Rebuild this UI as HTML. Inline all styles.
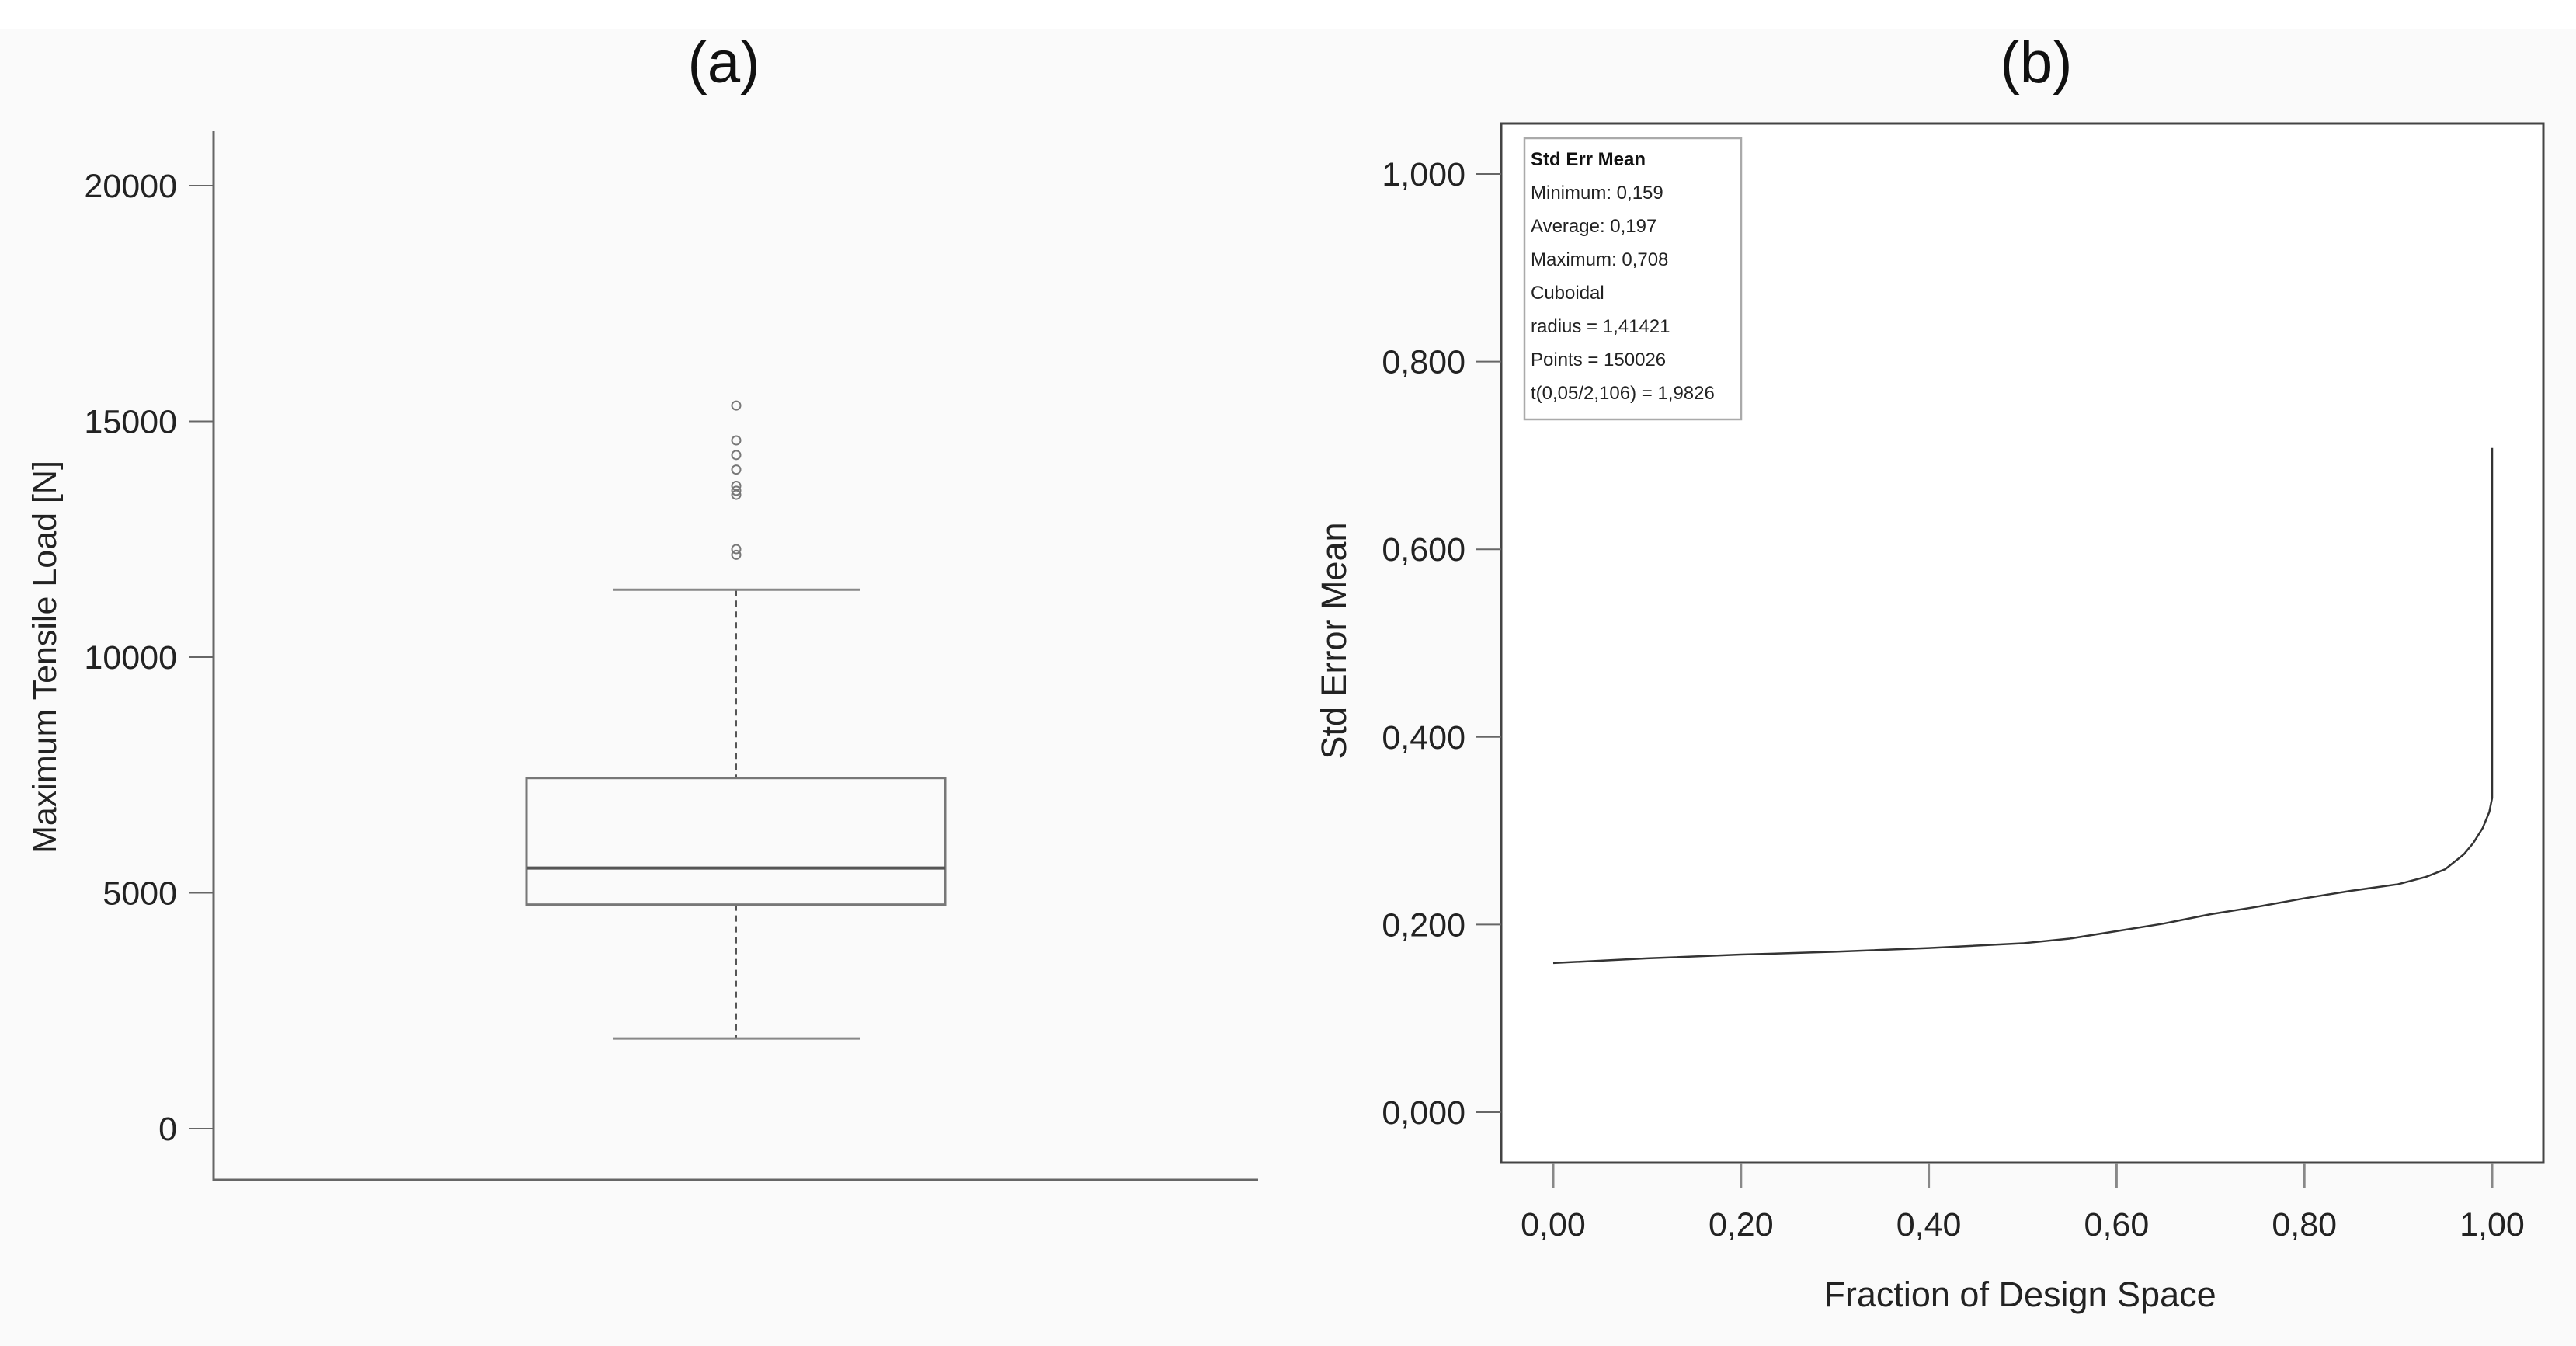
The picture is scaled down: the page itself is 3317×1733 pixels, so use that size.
<!DOCTYPE html>
<html><head><meta charset="utf-8"><style>
html,body{margin:0;padding:0;background:#fafafa;}
svg{display:block;font-family:"Liberation Sans",sans-serif;}
</style></head><body>
<svg id="svg" width="3317" height="1733" viewBox="0 0 3317 1733">
<rect x="0" y="0" width="3317" height="37" fill="#ffffff"/>
<rect x="1933" y="159" width="1342" height="1338" fill="#ffffff"/>
<g id="a"></g>
<g id="b"></g>
</svg>
<script>
// Panel (a) data
const aTicks = [0, 5000, 10000, 15000, 20000];
const boxStats = [1910, 4750, 5525, 7435, 11430]; // lower whisker, Q1, median, Q3, upper whisker
const outliers = [15336, 14596, 14286, 13976, 13632, 13528, 13442, 12289, 12169];
// Panel (b) data
const bTicksY = [0, 0.2, 0.4, 0.6, 0.8, 1.0];
const bTicksX = [0, 0.2, 0.4, 0.6, 0.8, 1.0];
const curveX = [0, 0.1, 0.2, 0.3, 0.4, 0.5, 0.55, 0.6, 0.65, 0.7, 0.75, 0.8, 0.85, 0.9, 0.93, 0.95, 0.97, 0.98, 0.99, 0.997, 1.0, 1.0];
const curveY = [0.159, 0.164, 0.168, 0.171, 0.175, 0.180, 0.185, 0.193, 0.201, 0.211, 0.219, 0.228, 0.236, 0.243, 0.251, 0.259, 0.275, 0.287, 0.303, 0.320, 0.335, 0.708];
const legendLines = ["Minimum: 0,159","Average: 0,197","Maximum: 0,708","Cuboidal","radius = 1,41421","Points = 150026","t(0,05/2,106) = 1,9826"];

const NS = "http://www.w3.org/2000/svg";
function mk(parent, tag, attrs, text){
  const e = document.createElementNS(NS, tag);
  for (const k in attrs) e.setAttribute(k, attrs[k]);
  if (text !== undefined) e.textContent = text;
  parent.appendChild(e); return e;
}
const fmt = (v, d) => v.toFixed(d).replace('.', ',');

// ---------- Panel a ----------
const A = document.getElementById('a');
const ay = v => 1453 - v * 0.0607;
const acx = 948;
let el;
el = mk(A,'text',{x:932,y:106,'font-size':76,'text-anchor':'middle',fill:'#111'},'(a)');


el = mk(A,'line',{x1:275,y1:169,x2:275,y2:1520,stroke:'#666','stroke-width':3});


el = mk(A,'line',{x1:274,y1:1519,x2:1620,y2:1519,stroke:'#666','stroke-width':3});


aTicks.forEach(t=>{
  const y = ay(t);
  el = mk(A,'line',{x1:243,y1:y,x2:275,y2:y,stroke:'#666','stroke-width':2});
  
  
  el = mk(A,'text',{x:228,y:y+15,'font-size':43,'text-anchor':'end',fill:'#222'},String(t));
  
  
});
el = mk(A,'text',{x:0,y:0,'font-size':43,'text-anchor':'middle',fill:'#222',transform:'translate(72,846) rotate(-90)'},'Maximum Tensile Load [N]');


el = mk(A,'line',{x1:acx,y1:ay(boxStats[4]),x2:acx,y2:ay(boxStats[3]),stroke:'#555','stroke-width':2,'stroke-dasharray':'8,6'});


el = mk(A,'line',{x1:acx,y1:ay(boxStats[1]),x2:acx,y2:ay(boxStats[0]),stroke:'#555','stroke-width':2,'stroke-dasharray':'8,6'});


el = mk(A,'line',{x1:789,y1:ay(boxStats[4]),x2:1108,y2:ay(boxStats[4]),stroke:'#888','stroke-width':3});


el = mk(A,'line',{x1:789,y1:ay(boxStats[0]),x2:1108,y2:ay(boxStats[0]),stroke:'#888','stroke-width':3});


el = mk(A,'rect',{x:678,y:ay(boxStats[3]),width:539,height:ay(boxStats[1])-ay(boxStats[3]),fill:'none',stroke:'#777','stroke-width':3});


el = mk(A,'line',{x1:678,y1:ay(boxStats[2]),x2:1217,y2:ay(boxStats[2]),stroke:'#555','stroke-width':4});


outliers.forEach(v=>{
  el = mk(A,'circle',{cx:acx,cy:ay(v),r:5.5,fill:'none',stroke:'#777','stroke-width':2});
  
  
});

// ---------- Panel b ----------
const B = document.getElementById('b');
const bx = v => 2000 + v * 1209;
const by = v => 1432 - v * 1208;
el = mk(B,'text',{x:2622,y:106,'font-size':76,'text-anchor':'middle',fill:'#111'},'(b)');


el = mk(B,'rect',{x:1933,y:159,width:1342,height:1338,fill:'none',stroke:'#444','stroke-width':3});


bTicksY.forEach(t=>{
  const y = by(t);
  el = mk(B,'line',{x1:1901,y1:y,x2:1933,y2:y,stroke:'#666','stroke-width':2});
  
  
  el = mk(B,'text',{x:1887,y:y+15,'font-size':43,'text-anchor':'end',fill:'#222'},fmt(t,3));
  
  
});
bTicksX.forEach(t=>{
  const x = bx(t);
  el = mk(B,'line',{x1:x,y1:1497,x2:x,y2:1530,stroke:'#888','stroke-width':3});
  
  
  el = mk(B,'text',{x:x,y:1591,'font-size':43,'text-anchor':'middle',fill:'#222'},fmt(t,2));
  
  
});
el = mk(B,'text',{x:2601,y:1682,'font-size':45,'text-anchor':'middle',fill:'#222'},'Fraction of Design Space');


el = mk(B,'text',{x:0,y:0,'font-size':45,'text-anchor':'middle',fill:'#222',transform:'translate(1733,825) rotate(-90)'},'Std Error Mean');


el = mk(B,'path',{d:curveX.map((x,i)=>(i?'L':'M')+bx(x)+' '+by(curveY[i])).join(' '),fill:'none',stroke:'#333','stroke-width':2.5});


// legend
el = mk(B,'rect',{x:1963,y:178,width:279,height:362,fill:'#fff',stroke:'#aaa','stroke-width':2.5});


el = mk(B,'text',{x:1971,y:213,'font-size':24,'font-weight':'bold',fill:'#111'},'Std Err Mean');


legendLines.forEach((s,i)=>{
  el = mk(B,'text',{x:1971,y:256+i*43,'font-size':24,fill:'#222'},s);
  
  
});
</script>
</body></html>
